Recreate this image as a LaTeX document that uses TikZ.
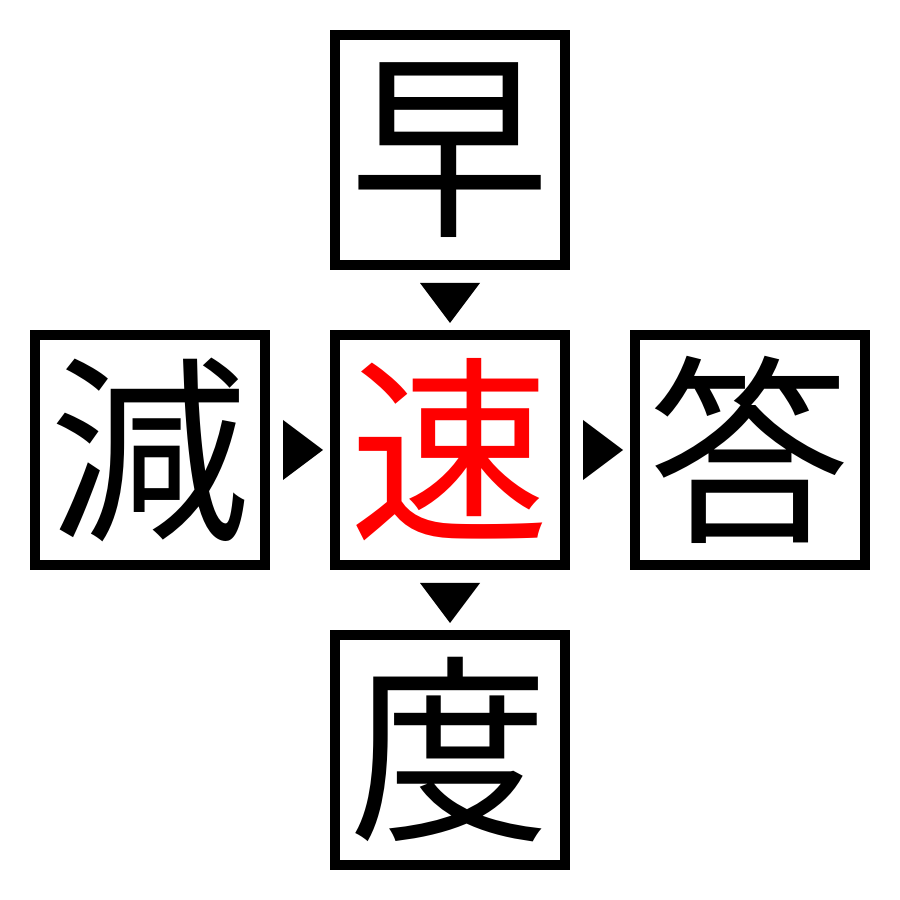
\documentclass[tikz,border=0pt]{standalone}
\usepackage{fontspec}
\usepackage{tikz}
\usetikzlibrary{positioning}
\newfontfamily\cjk{Noto Sans CJK JP}
\tikzstyle{charbox}=[draw,line width=0.1cm,minimum size=2.3cm,inner sep=0pt,font=\cjk\fontsize{57}{57}\selectfont]
\tikzstyle{pointer}=[fill=black]

\begin{document}
\begin{tikzpicture}
    \useasboundingbox (0,0) rectangle (9,9);
    \node[charbox,text=red] (su) at (4.5,4.5) {速};
    \node[charbox] (haya) [above=0.6cm of su] {早};
    \node[charbox] (gen) [left=0.6cm of su] {減};
    \node[charbox] (tou) [right=0.6cm of su] {答};
    \node[charbox] (do) [below=0.6cm of su] {度};

    \foreach \from in {haya,su}
    \fill[pointer] (\from.south) ++(-0.3,-0.13) -- ++(0.6,0) -- ++(-0.3,-0.4) -- cycle;
    \foreach \from in {gen,su}
    \fill[pointer] (\from.east) ++(0.13,0.3) -- ++(0,-0.6) -- ++(0.4,0.3) -- cycle;
\end{tikzpicture}
\end{document}
